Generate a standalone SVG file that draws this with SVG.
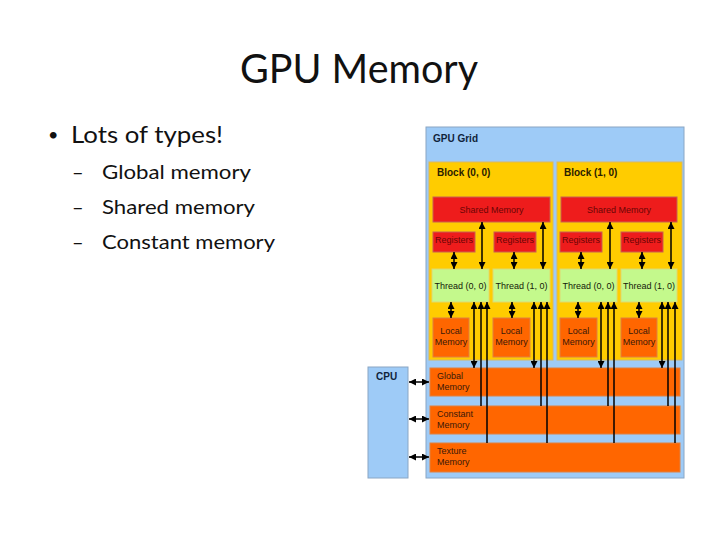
<svg xmlns="http://www.w3.org/2000/svg" width="720" height="540" viewBox="0 0 720 540">
<style>
.slide{font-family:Lato,"Open Sans","Liberation Sans",sans-serif;fill:#111}
.d{font-family:"Liberation Sans",Arial,sans-serif}
.hb{font-size:10px;font-weight:bold}
.s9{font-size:9px}
.grid{fill:#9ecbf7;stroke:#8aa6c4;stroke-width:1}
.blk{fill:#ffcc00;stroke:#d9b860;stroke-width:1}
.red{fill:#ee1c1c;stroke:#c86050;stroke-width:1}
.thr{fill:#c4f98c;stroke:#e0d870;stroke-width:1}
.org{fill:#ff6600;stroke:#e08040;stroke-width:1}
.tr{fill:#6a0505}
.tg{fill:#142008}
.to{fill:#3a1808}
.tb{fill:#10233a}
.ln{stroke:#000;stroke-width:1.5;fill:none}
.bi{marker-start:url(#ah);marker-end:url(#ah)}
.up{marker-start:url(#ah)}
</style>
<defs>
<marker id="ah" viewBox="0 0 10 10" refX="10" refY="5" markerUnits="userSpaceOnUse" markerWidth="7" markerHeight="7" orient="auto-start-reverse">
<path d="M0,0 L10,5 L0,10 z" fill="#000"/>
</marker>
</defs>
<rect width="720" height="540" fill="#fff"/>

<g id="title">
<text class="slide" x="359" y="83" font-size="40" text-anchor="middle" textLength="238" lengthAdjust="spacingAndGlyphs">GPU Memory</text>
</g>
<g id="bullets">
<text class="slide" x="48" y="141" font-size="18">•</text>
<text class="slide" x="71" y="143" font-size="24" textLength="152" lengthAdjust="spacingAndGlyphs">Lots of types!</text>
<text class="slide" x="72" y="179" font-size="20">–</text>
<text class="slide" x="102" y="179" font-size="20" textLength="149" lengthAdjust="spacingAndGlyphs">Global memory</text>
<text class="slide" x="72" y="214" font-size="20">–</text>
<text class="slide" x="102" y="214" font-size="20" textLength="153" lengthAdjust="spacingAndGlyphs">Shared memory</text>
<text class="slide" x="72" y="249" font-size="20">–</text>
<text class="slide" x="102" y="249" font-size="20" textLength="173" lengthAdjust="spacingAndGlyphs">Constant memory</text>
</g>

<g id="gpu-grid">
<rect class="grid" x="426" y="127" width="258" height="351"/>
<text class="d hb tb" x="433" y="142">GPU Grid</text>
</g>
<g id="cpu">
<rect class="grid" x="368" y="367" width="40" height="111"/>
<text class="d hb tb" x="376" y="380">CPU</text>
</g>

<g id="block-0-0">
<rect class="blk" x="429" y="162" width="124" height="198"/>
<text class="d hb" x="437" y="176" fill="#2a2000">Block (0, 0)</text>
</g>
<g id="block-1-0">
<rect class="blk" x="557" y="162" width="125" height="198"/>
<text class="d hb" x="564" y="176" fill="#2a2000">Block (1, 0)</text>
</g>

<g id="shared-0">
<rect class="red" x="433" y="197" width="117" height="25"/>
<text class="d s9 tr" x="491.5" y="213" text-anchor="middle">Shared Memory</text>
</g>
<g id="shared-1">
<rect class="red" x="561" y="197" width="116" height="25"/>
<text class="d s9 tr" x="619" y="213" text-anchor="middle">Shared Memory</text>
</g>

<g id="registers-0-0"><rect class="red" x="433" y="232" width="42" height="20"/><text class="d s9 tr" x="454" y="243" text-anchor="middle">Registers</text></g>
<g id="registers-0-1"><rect class="red" x="494" y="232" width="42" height="20"/><text class="d s9 tr" x="515" y="243" text-anchor="middle">Registers</text></g>
<g id="registers-1-0"><rect class="red" x="560" y="232" width="42" height="20"/><text class="d s9 tr" x="581" y="243" text-anchor="middle">Registers</text></g>
<g id="registers-1-1"><rect class="red" x="621" y="232" width="42" height="20"/><text class="d s9 tr" x="642" y="243" text-anchor="middle">Registers</text></g>

<g id="thread-0-0"><rect class="thr" x="432" y="269" width="57" height="33"/><text class="d s9 tg" x="460.5" y="289" text-anchor="middle">Thread (0, 0)</text></g>
<g id="thread-0-1"><rect class="thr" x="493" y="269" width="57" height="33"/><text class="d s9 tg" x="521.5" y="289" text-anchor="middle">Thread (1, 0)</text></g>
<g id="thread-1-0"><rect class="thr" x="560" y="269" width="57" height="33"/><text class="d s9 tg" x="588.5" y="289" text-anchor="middle">Thread (0, 0)</text></g>
<g id="thread-1-1"><rect class="thr" x="621" y="269" width="56" height="33"/><text class="d s9 tg" x="649" y="289" text-anchor="middle">Thread (1, 0)</text></g>

<g id="local-0-0"><rect class="org" x="433" y="318" width="36" height="39"/><text class="d s9 to" text-anchor="middle"><tspan x="451" y="334">Local</tspan><tspan x="451" y="345">Memory</tspan></text></g>
<g id="local-0-1"><rect class="org" x="493" y="318" width="37" height="39"/><text class="d s9 to" text-anchor="middle"><tspan x="511.5" y="334">Local</tspan><tspan x="511.5" y="345">Memory</tspan></text></g>
<g id="local-1-0"><rect class="org" x="560" y="318" width="37" height="39"/><text class="d s9 to" text-anchor="middle"><tspan x="578.5" y="334">Local</tspan><tspan x="578.5" y="345">Memory</tspan></text></g>
<g id="local-1-1"><rect class="org" x="621" y="318" width="36" height="39"/><text class="d s9 to" text-anchor="middle"><tspan x="639" y="334">Local</tspan><tspan x="639" y="345">Memory</tspan></text></g>

<g id="global-memory"><rect class="org" x="430" y="368" width="250" height="28"/><text class="d s9 to"><tspan x="437" y="379">Global</tspan><tspan x="437" y="390">Memory</tspan></text></g>
<g id="constant-memory"><rect class="org" x="430" y="406" width="250" height="28"/><text class="d s9 to"><tspan x="437" y="417">Constant</tspan><tspan x="437" y="428">Memory</tspan></text></g>
<g id="texture-memory"><rect class="org" x="430" y="443" width="250" height="29"/><text class="d s9 to"><tspan x="437" y="454">Texture</tspan><tspan x="437" y="465">Memory</tspan></text></g>

<g id="connectors">
<line class="ln bi" x1="454" y1="252" x2="454" y2="269"/>
<line class="ln bi" x1="514" y1="252" x2="514" y2="269"/>
<line class="ln bi" x1="581" y1="252" x2="581" y2="269"/>
<line class="ln bi" x1="642" y1="252" x2="642" y2="269"/>
<line class="ln bi" x1="482" y1="269" x2="482" y2="222"/>
<line class="ln bi" x1="543" y1="269" x2="543" y2="222"/>
<line class="ln bi" x1="610" y1="269" x2="610" y2="222"/>
<line class="ln bi" x1="671" y1="269" x2="671" y2="222"/>
<line class="ln bi" x1="451" y1="302" x2="451" y2="318"/>
<line class="ln bi" x1="512" y1="302" x2="512" y2="318"/>
<line class="ln bi" x1="578" y1="302" x2="578" y2="318"/>
<line class="ln bi" x1="639" y1="302" x2="639" y2="318"/>
<line class="ln bi" x1="474" y1="302" x2="474" y2="368"/>
<line class="ln bi" x1="534" y1="302" x2="534" y2="368"/>
<line class="ln bi" x1="601" y1="302" x2="601" y2="368"/>
<line class="ln bi" x1="662" y1="302" x2="662" y2="368"/>
<line class="ln up" x1="481" y1="302" x2="481" y2="406"/>
<line class="ln up" x1="541" y1="302" x2="541" y2="406"/>
<line class="ln up" x1="608" y1="302" x2="608" y2="406"/>
<line class="ln up" x1="668" y1="302" x2="668" y2="406"/>
<line class="ln up" x1="487" y1="302" x2="487" y2="443"/>
<line class="ln up" x1="547" y1="302" x2="547" y2="443"/>
<line class="ln up" x1="614" y1="302" x2="614" y2="443"/>
<line class="ln up" x1="675" y1="302" x2="675" y2="443"/>
<line class="ln bi" x1="409" y1="382" x2="429" y2="382"/>
<line class="ln bi" x1="409" y1="419" x2="429" y2="419"/>
<line class="ln bi" x1="409" y1="457" x2="429" y2="457"/>
</g>
</svg>
